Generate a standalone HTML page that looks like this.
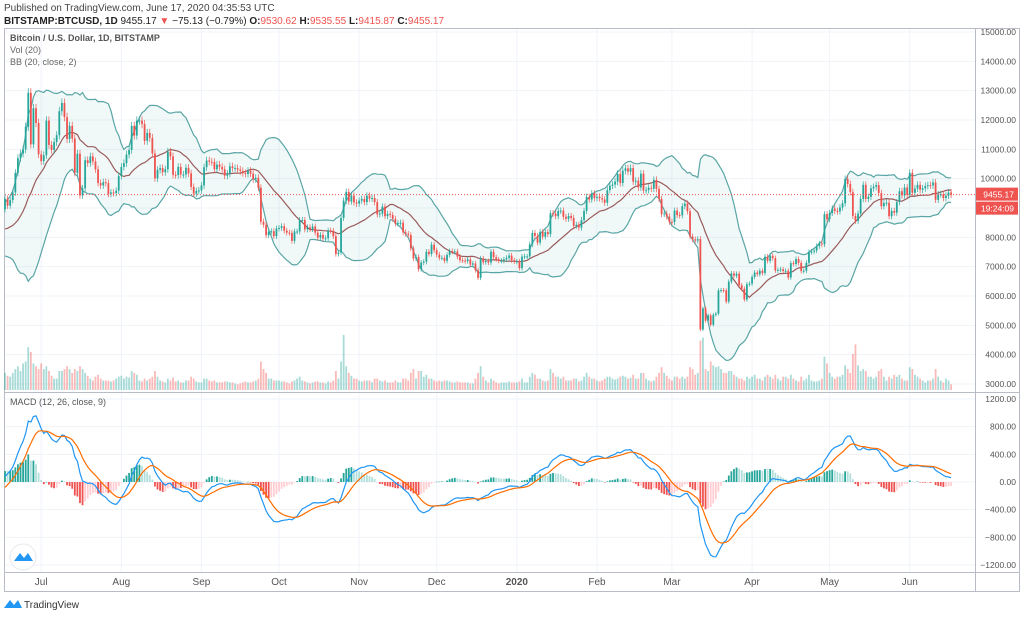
<!DOCTYPE html>
<html><head><meta charset="utf-8"><style>
body{margin:0;background:#fff;width:1024px;height:615px;overflow:hidden;font-family:"Liberation Sans",sans-serif}
svg text{font-family:"Liberation Sans",sans-serif}
</style></head><body>
<svg id="c" width="1024" height="615">
<text x="4" y="11" font-size="10" fill="#444">Published on TradingView.com, June 17, 2020 04:35:53 UTC</text>
<text x="4" y="24" font-size="10" fill="#222"><tspan font-weight="bold">BITSTAMP:BTCUSD, 1D</tspan> 9455.17 <tspan fill="#ef5350">▼</tspan> −75.13 (−0.79%) <tspan font-weight="bold">O:</tspan><tspan fill="#ef5350">9530.62</tspan> <tspan font-weight="bold">H:</tspan><tspan fill="#ef5350">9535.55</tspan> <tspan font-weight="bold">L:</tspan><tspan fill="#ef5350">9415.87</tspan> <tspan font-weight="bold">C:</tspan><tspan fill="#ef5350">9455.17</tspan></text>
<rect x="4.5" y="28.5" width="1015" height="563" fill="none" stroke="#b8bcc6"/>
<g id="grid"></g><g id="main"></g><g id="macd"></g><g id="axes"></g>
<line x1="975.5" y1="28" x2="975.5" y2="591" stroke="#b8bcc6"/>
<line x1="4" y1="392.5" x2="1020" y2="392.5" stroke="#b8bcc6"/>
<line x1="4" y1="572.5" x2="1020" y2="572.5" stroke="#b8bcc6"/>
<text x="10" y="41" font-size="9" fill="#555" font-weight="bold">Bitcoin / U.S. Dollar, 1D, BITSTAMP</text>
<text x="10" y="53" font-size="9" fill="#666">Vol (20)</text>
<text x="10" y="65" font-size="9" fill="#666">BB (20, close, 2)</text>
<text x="10" y="405" font-size="9" fill="#555">MACD (12, 26, close, 9)</text>
<circle cx="23" cy="557" r="13" fill="#fff" stroke="#e6e8ee"/>
<path d="M14 561 L20 553 L24 558 L28 553 L33 561 Z" fill="#2196f3"/>
<path d="M4 608 L10 600 L14 605 L18 600 L22 608 Z" fill="#2196f3"/>
<text x="24" y="608" font-size="10" fill="#333">TradingView</text>
</svg>
<script>
const pre=[8720,8660,8260,8550,8560,8740,8050,7680,7800,7800,8000,7930,7630,8010,7910,8170,8200,8690,8830,8960];
const jun19=[9320,9080,9270,9530,10200,10700,10860,11000,11770,12930,11170,12400,11900,10830];
const jul19=[10600,10800,11980,11150,10980,11250,11480,12300,12580,12100,11350,11800,11370,10200,10850,9430,9670,10630,10530,10760,10590,10320,9850,9770,9880,9850,9480,9530,9510,9590,10090];
const aug19=[10400,10530,10820,10980,11800,11470,11980,11980,11860,11290,11560,11390,10860,10010,10300,10360,10220,10320,10920,10760,10130,10120,10400,10140,10140,10370,10180,9720,9490,9580,9600];
const sep19=[9770,10390,10620,10580,10570,10320,10480,10400,10320,10100,10170,10420,10360,10360,10310,10260,10190,10160,10270,10170,9980,10030,9690,8530,8430,8070,8190,8210,8040,8300];
const oct19=[8320,8380,8230,8160,8150,7880,8200,8200,8590,8590,8270,8340,8280,8370,8160,7990,8080,7960,7970,8230,8220,8040,7430,7480,8660,9250,9550,9220,9420,9190,9150];
const nov19=[9250,9310,9200,9420,9320,9340,9200,8780,8810,9050,8720,8800,8760,8630,8470,8490,8500,8170,8120,8080,7620,7280,7330,6910,7140,7170,7510,7430,7750,7560];
const dec19=[7410,7300,7300,7200,7400,7530,7510,7520,7340,7220,7210,7190,7250,7070,7110,6880,6620,7280,7150,7190,7140,7510,7320,7250,7200,7200,7250,7300,7380,7220,7170];
const jan20=[7180,6950,7340,7350,7350,7760,8150,8050,7820,8190,8020,8180,8110,8820,8810,8720,8900,8910,8700,8630,8730,8660,8390,8430,8330,8590,8900,9380,9290,9500,9340];
const feb20=[9380,9330,9290,9180,9610,9760,9800,9900,10160,9850,10270,10350,10240,10360,9900,9930,9700,10170,9600,9610,9690,9660,9960,9650,9310,8790,8810,8710,8530];
const mar20=[8520,8910,8760,8750,9060,9150,8890,8030,7930,7890,7940,4860,5580,5160,5340,5020,5360,5400,6190,6200,6190,5810,6490,6770,6690,6760,6370,6250,5880,6400,6420];
const apr20=[6650,6800,6740,6860,6780,7340,7200,7370,7290,6870,6890,6910,6850,6860,6630,7120,7090,7260,7130,6850,6860,7130,7500,7510,7550,7700,7790,7760,8790,8620];
const may20=[8830,8980,8900,8880,9020,9160,9990,9820,9540,8730,8560,8810,9310,9790,9310,9380,9670,9720,9780,9510,9060,9170,9180,8720,8900,8840,9200,9570,9430,9700,9450];
const jun20=[10200,9520,9660,9790,9620,9670,9750,9780,9770,9870,9280,9470,9470,9340,9420,9530,9455.17];
const volumes=[18,15,14,18,22,25,20,28,30,45,40,28,25,22,
28,22,25,20,15,12,12,20,20,22,25,22,18,22,20,25,22,18,15,12,10,14,16,12,10,10,10,9,10,12,14,
15,12,14,13,20,18,16,10,9,12,10,12,14,20,14,10,9,8,12,10,13,9,10,8,8,10,10,14,12,9,8,
8,12,12,10,9,10,8,8,8,9,9,8,8,7,6,7,8,9,8,8,9,10,12,30,22,18,12,12,10,10,
10,9,9,8,7,9,10,12,14,10,9,8,7,8,9,9,8,8,7,9,8,10,20,12,30,58,25,18,15,12,12,
10,9,10,10,10,8,12,12,10,9,10,8,8,8,10,8,8,12,12,10,18,22,12,20,20,14,16,12,12,10,
9,10,9,10,10,9,8,8,9,8,8,8,8,7,7,12,18,25,14,10,8,12,10,8,7,8,8,8,9,8,8,
8,9,12,8,8,14,18,16,12,12,10,9,10,22,18,14,14,12,14,10,10,10,12,12,9,10,14,18,14,12,12,
10,9,10,12,14,14,12,11,12,14,15,14,12,13,16,12,12,18,18,12,10,9,10,14,18,24,18,15,12,
10,14,14,12,14,12,14,24,22,16,18,52,55,22,20,30,26,24,25,22,18,18,20,20,16,14,12,12,10,14,12,
14,16,12,12,10,14,16,14,12,16,12,10,14,14,12,16,12,10,9,14,10,12,16,10,9,9,10,12,35,28,
18,14,12,14,14,16,26,22,18,38,48,26,20,22,20,14,14,12,14,20,22,14,10,14,12,16,14,16,12,10,10,
24,22,16,14,12,10,8,10,10,12,22,14,10,8,12,10,6];
const priceTicks=[3000,4000,5000,6000,7000,8000,9000,10000,11000,12000,13000,14000,15000];
const macdTicks=[-1200,-800,-400,0,400,800,1200];
const monthLabels=["Jul","Aug","Sep","Oct","Nov","Dec","2020","Feb","Mar","Apr","May","Jun"];
const monthStartIdx=[14,45,76,106,137,167,198,229,258,289,319,350];

const closes=[].concat(jun19,jul19,aug19,sep19,oct19,nov19,dec19,jan20,feb20,mar20,apr20,may20,jun20);
const all=pre.concat(closes), P=pre.length, N=closes.length;
const NS="http://www.w3.org/2000/svg";
const X=i=>5+i*2.585;
const Y=p=>32+(15000-p)*0.029333;
const YM=m=>482-m*0.0692;
const YV=v=>390-v*0.95;
function mk(t,a,parent){const e=document.createElementNS(NS,t);for(const k in a)e.setAttribute(k,a[k]);document.getElementById(parent).appendChild(e);return e;}
monthStartIdx.forEach((idx,k)=>{
 const l=mk('line',{x1:X(idx),x2:X(idx),y1:29,y2:572,stroke:'#f0f3fa'},'grid');
 
 
 const t=mk('text',{x:X(idx),y:585,'font-size':10,fill:'#555','text-anchor':'middle','font-weight':monthLabels[k]==='2020'?'bold':'normal'},'axes');
 t.textContent=monthLabels[k];
 
 
});
priceTicks.forEach(p=>{
 const l=mk('line',{x1:5,x2:975,y1:Y(p),y2:Y(p),stroke:'#f0f3fa'},'grid');
 
 
 const t=mk('text',{x:1016,y:Y(p)+3,'font-size':8.5,fill:'#555','text-anchor':'end'},'axes');
 t.textContent=p.toFixed(2);
 
 
});
macdTicks.forEach(m=>{
 const l=mk('line',{x1:5,x2:975,y1:YM(m),y2:YM(m),stroke:'#f0f3fa'},'grid');
 
 
 const t=mk('text',{x:1016,y:YM(m)+3,'font-size':8.5,fill:'#555','text-anchor':'end'},'axes');
 t.textContent=(m<0?'−':'')+Math.abs(m).toFixed(2);
 
 
});
for(let i=0;i<N;i++){
 const up=closes[i]>=all[P+i-1];
 const r=mk('rect',{x:X(i)-0.9,y:YV(volumes[i]),width:1.8,height:390-YV(volumes[i]),fill:up?'rgba(38,166,154,0.4)':'rgba(239,83,80,0.4)'},'main');
 
 
}
const bbU=[],bbL=[],bbM=[];
for(let i=0;i<N;i++){const w=all.slice(P+i-19,P+i+1);const m=w.reduce((a,b)=>a+b)/20;const sd=Math.sqrt(w.reduce((a,b)=>a+(b-m)*(b-m),0)/20);bbM.push(m);bbU.push(m+2*sd);bbL.push(m-2*sd);}
const pts=a=>a.map((v,i)=>X(i).toFixed(1)+','+Y(v).toFixed(1));
let fill=mk('polygon',{points:pts(bbU).concat(pts(bbL).reverse()).join(' '),fill:'rgba(38,166,154,0.07)'},'main');


[[bbU,'#5aa5a5','bb-upper'],[bbL,'#5aa5a5','bb-lower'],[bbM,'#9a5b5b','bb-basis']].forEach(([a,c,n])=>{
 const l=mk('polyline',{points:pts(a).join(' '),fill:'none',stroke:c,'stroke-width':1.2},'main');
 
 
});
for(let i=0;i<N;i++){
 const o=all[P+i-1],c=closes[i],up=c>=o,col=up?'#26a69a':'#ef5350';
 const hi=Math.max(o,c)*1.012,lo=Math.min(o,c)*0.988;
 const w=mk('line',{x1:X(i),x2:X(i),y1:Y(hi),y2:Y(lo),stroke:col,'stroke-width':0.7},'main');
 
 
 const b=mk('rect',{x:X(i)-0.9,y:Y(Math.max(o,c)),width:1.8,height:Math.max(1,Math.abs(Y(o)-Y(c))),fill:col},'main');
 
 
}
const last=closes[N-1];
let pl=mk('line',{x1:5,x2:975,y1:Y(last),y2:Y(last),stroke:'#ef5350','stroke-dasharray':'1,2'},'main');


let lb=mk('rect',{x:976,y:Y(last)-7,width:42,height:13,fill:'#ef5350'},'axes');


let lt=mk('text',{x:1014,y:Y(last)+3,'font-size':8.5,fill:'#fff','text-anchor':'end'},'axes');lt.textContent=last.toFixed(2);


let cb=mk('rect',{x:976,y:Y(last)+7,width:42,height:13,fill:'#ef5350'},'axes');


let ct=mk('text',{x:1014,y:Y(last)+17,'font-size':8.5,fill:'#fff','text-anchor':'end'},'axes');ct.textContent='19:24:09';


function ema(a,n){const k=2/(n+1);const r=[a[0]];for(let i=1;i<a.length;i++)r.push(a[i]*k+r[i-1]*(1-k));return r;}
const e12=ema(all,12),e26=ema(all,26);const macdAll=e12.map((v,i)=>v-e26[i]);const sigAll=ema(macdAll,9);
const macd=macdAll.slice(P),sig=sigAll.slice(P);
for(let i=0;i<N;i++){
 const h=macd[i]-sig[i],prev=i?macd[i-1]-sig[i-1]:h;
 const col=h>=0?(h>=prev?'#26a69a':'#b2dfdb'):(h<prev?'#ef5350':'#ffcdd2');
 const r=mk('rect',{x:X(i)-0.9,y:Math.min(YM(0),YM(h)),width:1.8,height:Math.max(0.5,Math.abs(YM(h)-YM(0))),fill:col},'macd');
 
 
}
const ptsM=a=>a.map((v,i)=>X(i).toFixed(1)+','+YM(v).toFixed(1)).join(' ');
let ml=mk('polyline',{points:ptsM(macd),fill:'none',stroke:'#2196f3','stroke-width':1.2},'macd');


let sl=mk('polyline',{points:ptsM(sig),fill:'none',stroke:'#ff6d00','stroke-width':1.2},'macd');


</script>
</body></html>
